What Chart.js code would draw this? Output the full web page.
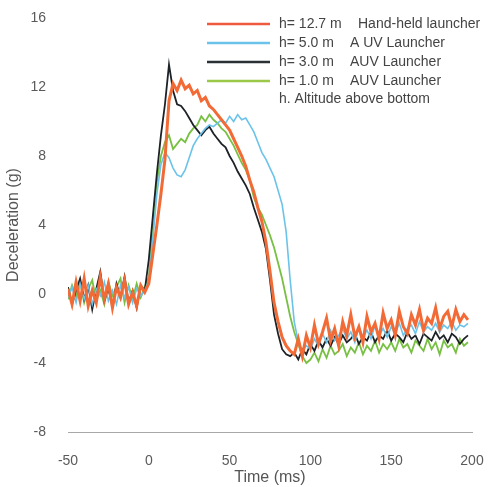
<!DOCTYPE html>
<html>
<head>
<meta charset="utf-8">
<script src="https://cdn.jsdelivr.net/npm/chart.js@4.4.1/dist/chart.umd.min.js"></script>
<style>
  body { margin: 0; background: #fff; }
</style>
</head>
<body>
<canvas id="chart" width="491" height="487"></canvas>
<script>
// sample times (ms), shared by every record
const timeMs = [
  -50, -47.5, -45, -42.5, -40, -37.5, -35, -32.5, -30, -27.5,
  -25, -22.5, -20, -17.5, -15, -12.5, -10, -7.5, -5, -2.5,
  0, 2.5, 5, 7.5, 10, 12.5, 15, 17.5, 20, 22.5,
  25, 27.5, 30, 32.5, 35, 37.5, 40, 42.5, 45, 47.5,
  50, 52.5, 55, 57.5, 60, 62.5, 65, 67.5, 70, 72.5,
  75, 77.5, 80, 82.5, 85, 87.5, 90, 92.5, 95, 97.5,
  100, 102.5, 105, 107.5, 110, 112.5, 115, 117.5, 120, 122.5,
  125, 127.5, 130, 132.5, 135, 137.5, 140, 142.5, 145, 147.5,
  150, 152.5, 155, 157.5, 160, 162.5, 165, 167.5, 170, 172.5,
  175, 177.5, 180, 182.5, 185, 187.5, 190, 192.5, 195, 197.5
];

// deceleration (g)
const handHeld127 = [
  0.3, -0.6, 0.7, -0.4, 0.9, -0.7, 0.2, -0.5, 1.0, -0.3,
  0.6, -0.8, 0.4, -0.2, 0.8, -0.6, 0.1, -0.7, 0.5, 0.1,
  0.6, 2.3, 4.0, 5.8, 7.8, 11.2, 12.2, 11.8, 12.4, 11.9,
  12.1, 11.6, 11.8, 11.2, 11.4, 10.9, 10.7, 10.4, 10.1, 9.8,
  9.5, 9.0, 8.5, 8.0, 7.4, 6.6, 5.9, 5.0, 4.2, 3.0,
  1.3, -0.5, -1.6, -2.5, -3.0, -3.3, -3.5, -2.6, -3.6, -2.4,
  -3.1, -1.8, -2.9, -2.2, -1.4, -2.7, -2.0, -3.0, -1.6, -2.4,
  -1.2, -2.5, -1.9, -2.8, -1.3, -2.2, -1.7, -2.6, -1.1, -2.0,
  -1.5, -2.4, -1.0, -1.9, -2.3, -1.2, -1.8, -0.9, -2.1, -1.4,
  -1.7, -0.8, -2.0, -1.3, -1.0, -1.9, -0.9, -1.6, -1.2, -1.5
];
const auv50 = [
  -0.2, 0.4, -0.5, 0.6, -0.3, 0.5, -0.6, 0.3, -0.1, 0.7,
  -0.4, 0.2, -0.6, 0.5, -0.2, 0.4, -0.5, 0.3, -0.1, 0.2,
  0.8, 3.2, 5.8, 7.5, 8.2, 7.9, 7.3, 6.9, 6.8, 7.2,
  7.9, 8.6, 9.0, 9.3, 9.6, 9.8, 9.7, 9.9, 10.1, 9.9,
  10.3, 10.0, 10.4, 10.1, 10.2, 9.8, 9.4, 8.8, 8.2, 7.8,
  7.3, 6.8, 6.0, 5.2, 3.6, 0.8, -1.6, -2.8, -3.3, -3.0,
  -3.2, -2.6, -3.0, -2.3, -2.8, -2.1, -2.7, -2.4, -2.0, -2.6,
  -2.2, -2.8, -1.9, -2.5, -2.1, -2.6, -1.8, -2.4, -2.0, -2.5,
  -1.9, -2.3, -1.7, -2.4, -2.0, -1.8, -2.3, -1.6, -2.2, -1.9,
  -2.1, -1.7, -2.2, -1.8, -2.0, -1.6, -2.1, -1.8, -1.9, -1.7
];
const auv30 = [
  0.4, -0.6, 0.2, 0.9, -0.3, 0.5, -0.9, 0.3, 1.3, -0.4,
  0.3, -0.7, 0.6, -0.2, 1.0, -0.5, 0.2, -0.8, 0.5, 0.2,
  2.0, 4.5, 7.0, 9.2, 11.0, 13.3, 11.8, 11.0, 10.9, 10.6,
  10.2, 9.8, 9.5, 9.2, 9.5, 9.7, 9.3, 9.0, 8.7, 8.5,
  8.0, 7.6, 7.1, 6.7, 6.3, 5.8, 5.0, 4.3, 3.6, 2.6,
  0.8, -1.2, -2.3, -3.2, -3.5, -3.6, -3.4, -3.8, -3.2, -3.5,
  -2.9, -3.3, -2.7, -3.1, -2.6, -3.0, -2.5, -2.9, -2.4, -2.8,
  -2.6, -2.3, -2.9, -2.5, -2.7, -2.2, -2.8, -2.4, -2.6, -2.1,
  -2.7, -2.3, -2.5, -2.8, -2.2, -2.6, -2.4, -2.9, -2.3, -2.5,
  -2.7, -2.2, -2.6, -2.4, -2.8, -2.3, -2.5, -2.9, -2.6, -2.4
];
const auv10 = [
  -0.3, 0.5, -0.2, 0.7, -0.5, 0.3, 0.8, -0.4, 0.2, -0.6,
  0.7, -0.1, 0.4, 0.9, -0.5, 0.5, -0.3, 0.6, -0.2, 0.4,
  1.0, 3.8, 6.5, 8.0, 8.8, 9.2, 8.4, 8.7, 9.0, 8.8,
  9.3, 9.6, 9.8, 10.3, 10.0, 10.4, 10.1, 9.9, 9.6, 9.4,
  9.0, 8.6, 8.1, 7.6, 7.2, 6.6, 5.6, 5.0, 4.6, 4.0,
  3.4, 2.7, 1.8, 0.9, -0.2, -1.3, -2.2, -2.9, -3.6, -4.0,
  -3.8, -3.4, -3.9, -3.2, -3.7, -3.0, -3.5, -3.3, -2.9, -3.6,
  -3.1, -3.4, -2.8, -3.5, -3.0, -3.3, -2.7, -3.4, -2.9, -3.2,
  -2.8, -3.3, -2.6, -3.1, -2.9, -3.4, -2.7, -3.0, -3.3, -2.6,
  -3.2, -2.8, -3.5, -2.7, -3.1, -2.9, -3.4, -2.6, -3.0, -2.8
];

const seriesNames = ["h= 12.7 m", "h= 5.0 m", "h= 3.0 m", "h= 1.0 m"];
const launcherNames = ["Hand-held launcher", "A UV Launcher", "AUV Launcher", "AUV Launcher"];
const legendNote = "h. Altitude above bottom";

const xTicks = [-50, 0, 50, 100, 150, 200];
const yTicks = [-8, -4, 0, 4, 8, 12, 16];

const FONT = "'Liberation Sans', Arial, sans-serif";

const toPoints = (values) => values.map((v, i) => ({ x: timeMs[i], y: v }));

// legend drawn inside the plot, upper right
const cornerLegend = {
  id: "cornerLegend",
  afterDraw(chart) {
    const c = chart.ctx;
    const x0 = 207, x1 = 270, tx = 279;
    const rows = [24, 43, 62, 81, 99];
    const second = [358, 350, 350, 350];
    c.save();
    c.font = "14px " + FONT;
    c.textBaseline = "middle";
    c.fillStyle = "#444";
    chart.data.datasets.forEach((ds, i) => {
      c.strokeStyle = ds.legendColor;
      c.lineWidth = 2.5;
      c.beginPath();
      c.moveTo(x0, rows[i]);
      c.lineTo(x1, rows[i]);
      c.stroke();
      c.fillText(ds.label, tx, rows[i]);
      c.fillText(launcherNames[i], second[i], rows[i]);
    });
    c.fillText(legendNote, tx, rows[4]);
    c.restore();
  }
};

const ctx = document.getElementById("chart").getContext("2d");

new Chart(ctx, {
  type: "line",
  data: {
    datasets: [
      {
        label: seriesNames[0],
        data: toPoints(handHeld127),
        borderColor: "#f26a35",
        legendColor: "#ef5b3f",
        borderWidth: 3
      },
      {
        label: seriesNames[1],
        data: toPoints(auv50),
        borderColor: "#6cc3ea",
        legendColor: "#6cc3ea",
        borderWidth: 1.6
      },
      {
        label: seriesNames[2],
        data: toPoints(auv30),
        borderColor: "#1d2226",
        legendColor: "#2a3034",
        borderWidth: 1.8
      },
      {
        label: seriesNames[3],
        data: toPoints(auv10),
        borderColor: "#78c043",
        legendColor: "#9cc84a",
        borderWidth: 1.8
      }
    ]
  },
  options: {
    responsive: false,
    animation: false,
    layout: { padding: { top: 18, right: 19, left: 0, bottom: 0 } },
    elements: { point: { radius: 0 }, line: { tension: 0 } },
    plugins: { legend: { display: false }, tooltip: { enabled: false } },
    scales: {
      x: {
        type: "linear",
        min: -50,
        max: 200,
        // fixed axis height, and let the end labels hang over the padding
        afterFit: (s) => { s.height = 55; s.paddingLeft = 0; s.paddingRight = 0; },
        afterBuildTicks: (s) => { s.ticks = xTicks.map((v) => ({ value: v })); },
        grid: { display: false },
        border: { display: true, color: "#a8a8a8", width: 1 },
        ticks: { color: "#5a5a5a", font: { family: FONT, size: 14 }, padding: 13 },
        title: {
          display: true,
          text: "Time (ms)",
          color: "#555",
          font: { family: FONT, size: 16 },
          padding: { top: 0, bottom: 0 }
        }
      },
      y: {
        min: -8,
        max: 16,
        afterFit: (s) => { s.width = 68; s.paddingTop = 0; s.paddingBottom = 0; },
        afterBuildTicks: (s) => { s.ticks = yTicks.map((v) => ({ value: v })); },
        grid: { display: false },
        border: { display: false },
        ticks: { color: "#5a5a5a", font: { family: FONT, size: 14 }, padding: 14 },
        title: {
          display: true,
          text: "Deceleration (g)",
          color: "#555",
          font: { family: FONT, size: 16 },
          padding: { top: 4, bottom: 0 }
        }
      }
    }
  },
  plugins: [cornerLegend]
});
</script>
</body>
</html>
